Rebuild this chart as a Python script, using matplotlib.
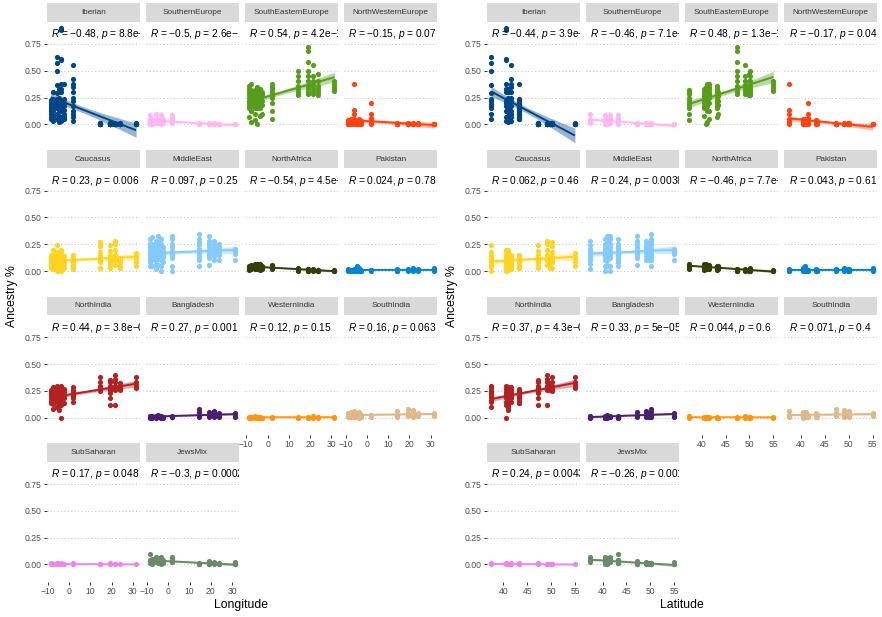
import numpy as np
import matplotlib
matplotlib.use("Agg")
import matplotlib.pyplot as plt

plt.rcParams['font.family'] = ['Liberation Sans', 'DejaVu Sans']
plt.rcParams['mathtext.fontset'] = 'custom'
plt.rcParams['mathtext.it'] = 'Liberation Sans:italic'
plt.rcParams['mathtext.rm'] = 'Liberation Sans'

# ---------------- data ----------------
components = ["Iberian", "SouthernEurope", "SouthEasternEurope", "NorthWesternEurope",
              "Caucasus", "MiddleEast", "NorthAfrica", "Pakistan",
              "NorthIndia", "Bangladesh", "WesternIndia", "SouthIndia",
              "SubSaharan", "JewsMix"]
colors = ["#004586", "#ffb6f5", "#579d1c", "#ff420e",
          "#ffd320", "#83caff", "#314004", "#0084d1",
          "#b22222", "#4b1f6f", "#ff950e", "#deb887",
          "#ee82ee", "#698b69"]

site_lon = [-8.7, -7.6, -5.9, -4.8, -3.7, -2.6, 1.9, 14.4, 19.2, 21.6, 23.9, 31.5]
site_lat = [43.2, 41.0, 37.4, 40.9, 40.5, 43.3, 41.5, 50.1, 47.3, 49.1, 49.8, 55.0]

iberian = [[0.23, 0.21, 0.19, 0.17, 0.15, 0.13, 0.12, 0.1, 0.07, 0.05],
           [0.3, 0.24, 0.22, 0.2, 0.18, 0.15, 0.12, 0.08, 0.05, 0.03],
           [0.63, 0.57, 0.5, 0.37, 0.29, 0.24, 0.22, 0.19, 0.17, 0.15, 0.1, 0.05],
           [0.33, 0.3, 0.25, 0.22, 0.2, 0.17, 0.13, 0.08, 0.04, 0.02],
           [0.9, 0.88, 0.61, 0.6, 0.38, 0.33, 0.3, 0.22, 0.2, 0.17, 0.12, 0.07, 0.03],
           [0.38, 0.24, 0.2, 0.17, 0.13, 0.1, 0.07, 0.05],
           [0.55, 0.42, 0.38, 0.35, 0.3, 0.25, 0.22, 0.17, 0.12, 0.1, 0.07, 0.03],
           [0.0, 0.01, 0.0, 0.0, 0.01, 0.0, 0.0, 0.0, 0.01],
           [0.0, 0.0, 0.01, 0.0, 0.0, 0.0, 0.01, 0.0, 0.0, 0.0],
           [0.0, 0.0, 0.0, 0.01, 0.0, 0.0, 0.0, 0.0],
           [0.0, 0.01, 0.0, 0.0, 0.0, 0.0, 0.0],
           [0.0, 0.0, 0.0, 0.01, 0.0, 0.0]]
southern_europe = [[0.09, 0.05, 0.03, 0.02, 0.01, 0.0], [0.05, 0.03, 0.02, 0.0],
                   [0.1, 0.05, 0.03, 0.02, 0.01], [0.05, 0.03, 0.02, 0.01],
                   [0.09, 0.05, 0.03, 0.02, 0.0], [0.05, 0.03, 0.01],
                   [0.09, 0.06, 0.04, 0.02, 0.01], [0.01, 0.0, 0.0, 0.0, 0.0],
                   [0.0, 0.0, 0.01, 0.0, 0.0], [0.01, 0.0, 0.0, 0.0], [0.0, 0.0, 0.0, 0.0],
                   [0.0, 0.0, 0.0]]
south_eastern_europe = [[0.36, 0.33, 0.3, 0.27, 0.25, 0.22, 0.2, 0.17, 0.15, 0.07],
                        [0.38, 0.32, 0.3, 0.27, 0.25, 0.2, 0.17, 0.12, 0.02],
                        [0.32, 0.3, 0.28, 0.25, 0.22, 0.2, 0.18, 0.15, 0.1, 0.04],
                        [0.35, 0.32, 0.3, 0.28, 0.26, 0.22, 0.2, 0.15, 0.0],
                        [0.33, 0.3, 0.28, 0.26, 0.25, 0.23, 0.2, 0.17, 0.15, 0.08],
                        [0.3, 0.28, 0.26, 0.22, 0.18, 0.1],
                        [0.38, 0.35, 0.33, 0.3, 0.28, 0.27, 0.25, 0.2, 0.12, 0.05],
                        [0.5, 0.45, 0.4, 0.36, 0.33, 0.3, 0.28, 0.27],
                        [0.72, 0.68, 0.58, 0.5, 0.45, 0.4, 0.36, 0.33, 0.3, 0.28],
                        [0.55, 0.45, 0.4, 0.37, 0.34, 0.31, 0.28],
                        [0.47, 0.4, 0.36, 0.33, 0.3, 0.27],
                        [0.4, 0.38, 0.35, 0.33, 0.31]]
north_western_europe = [[0.04, 0.03, 0.02, 0.01, 0.0, 0.0], [0.05, 0.03, 0.02, 0.0, 0.0],
                        [0.38, 0.13, 0.1, 0.05, 0.04, 0.02, 0.01, 0.0],
                        [0.03, 0.02, 0.01, 0.0, 0.0], [0.05, 0.04, 0.02, 0.01, 0.0, 0.0],
                        [0.03, 0.02, 0.01, 0.0], [0.2, 0.1, 0.06, 0.04, 0.02, 0.01, 0.0],
                        [0.0, 0.01, 0.0, 0.0, 0.0, 0.0], [0.0, 0.0, 0.01, 0.0, 0.0, 0.0],
                        [0.0, 0.0, 0.0, 0.0, 0.01], [0.0, 0.01, 0.0, 0.0, 0.0],
                        [0.0, 0.0, 0.0, 0.0]]
caucasus = [[0.15, 0.13, 0.11, 0.1, 0.08, 0.07, 0.05, 0.03],
            [0.2, 0.15, 0.12, 0.1, 0.08, 0.06, 0.04, 0.02],
            [0.24, 0.18, 0.14, 0.12, 0.1, 0.08, 0.06, 0.04, 0.0],
            [0.17, 0.14, 0.12, 0.1, 0.08, 0.05, 0.03, 0.01],
            [0.2, 0.17, 0.14, 0.12, 0.1, 0.08, 0.06, 0.03, 0.0],
            [0.14, 0.11, 0.08, 0.06, 0.03],
            [0.15, 0.12, 0.1, 0.08, 0.06, 0.04, 0.02],
            [0.27, 0.23, 0.18, 0.14, 0.12, 0.1, 0.08, 0.03],
            [0.24, 0.19, 0.15, 0.12, 0.1, 0.08, 0.06, 0.03],
            [0.28, 0.25, 0.2, 0.15, 0.12, 0.1, 0.06],
            [0.12, 0.1, 0.08, 0.05, 0.03],
            [0.17, 0.14, 0.12, 0.08, 0.05]]
middle_east = [[0.3, 0.25, 0.22, 0.2, 0.17, 0.15, 0.12, 0.1, 0.08, 0.05],
               [0.32, 0.25, 0.22, 0.18, 0.16, 0.14, 0.12, 0.1, 0.05],
               [0.28, 0.24, 0.21, 0.19, 0.17, 0.15, 0.12, 0.1, 0.07, 0.02],
               [0.33, 0.27, 0.23, 0.2, 0.18, 0.15, 0.13, 0.11, 0.06],
               [0.3, 0.25, 0.22, 0.2, 0.18, 0.16, 0.14, 0.1, 0.05, 0.0],
               [0.22, 0.19, 0.17, 0.15, 0.13, 0.08],
               [0.33, 0.3, 0.25, 0.22, 0.19, 0.17, 0.15, 0.12, 0.05, 0.0],
               [0.35, 0.3, 0.27, 0.24, 0.21, 0.19, 0.16, 0.13, 0.1, 0.05],
               [0.33, 0.28, 0.25, 0.22, 0.2, 0.17, 0.15, 0.12, 0.06],
               [0.28, 0.25, 0.22, 0.2, 0.17, 0.14, 0.1],
               [0.25, 0.22, 0.2, 0.18, 0.15, 0.1],
               [0.21, 0.2, 0.19, 0.18, 0.16, 0.1]]
north_africa = [[0.05, 0.04, 0.03, 0.02, 0.01], [0.06, 0.05, 0.04, 0.03, 0.02],
                [0.07, 0.06, 0.05, 0.04, 0.03, 0.02], [0.07, 0.06, 0.05, 0.04, 0.03, 0.02],
                [0.07, 0.06, 0.05, 0.04, 0.03, 0.02, 0.01], [0.05, 0.04, 0.03, 0.02],
                [0.06, 0.05, 0.04, 0.03, 0.02], [0.03, 0.02, 0.01, 0.01, 0.0],
                [0.02, 0.02, 0.01, 0.0, 0.0], [0.02, 0.01, 0.01, 0.0],
                [0.01, 0.01, 0.0, 0.0], [0.01, 0.0, 0.0]]
pakistan = [[0.02, 0.01, 0.01, 0.0], [0.01, 0.01, 0.0], [0.02, 0.01, 0.0, 0.0],
            [0.05, 0.02, 0.01, 0.0], [0.03, 0.02, 0.01, 0.0], [0.01, 0.0, 0.0],
            [0.01, 0.01, 0.0], [0.02, 0.01, 0.0, 0.0], [0.02, 0.01, 0.0],
            [0.03, 0.01, 0.0], [0.02, 0.01, 0.0], [0.03, 0.01, 0.0]]
north_india = [[0.26, 0.24, 0.22, 0.2, 0.18, 0.16, 0.14],
               [0.29, 0.26, 0.23, 0.21, 0.19, 0.17, 0.13, 0.08],
               [0.3, 0.28, 0.25, 0.23, 0.21, 0.19, 0.17, 0.15, 0.1],
               [0.28, 0.25, 0.23, 0.21, 0.19, 0.15, 0.11, 0.07],
               [0.3, 0.27, 0.24, 0.22, 0.2, 0.18, 0.15, 0.12, 0.0],
               [0.27, 0.24, 0.21, 0.18, 0.14],
               [0.29, 0.26, 0.24, 0.22, 0.2, 0.18, 0.15],
               [0.38, 0.33, 0.3, 0.28, 0.26, 0.25],
               [0.35, 0.33, 0.3, 0.28, 0.27, 0.25, 0.23, 0.18, 0.12],
               [0.4, 0.36, 0.33, 0.3, 0.28, 0.26, 0.12],
               [0.32, 0.3, 0.28, 0.26],
               [0.38, 0.33, 0.31, 0.29, 0.28]]
bangladesh = [[0.02, 0.01, 0.01, 0.0], [0.02, 0.01, 0.0], [0.02, 0.01, 0.01, 0.0],
              [0.03, 0.02, 0.01], [0.02, 0.01, 0.0, 0.0], [0.01, 0.01, 0.0],
              [0.02, 0.01, 0.01], [0.08, 0.05, 0.03, 0.02, 0.01], [0.05, 0.03, 0.02, 0.01],
              [0.06, 0.04, 0.02, 0.01], [0.04, 0.02, 0.01], [0.04, 0.02, 0.01]]
western_india = [[0.01, 0.0, 0.0], [0.01, 0.0], [0.02, 0.01, 0.0], [0.01, 0.0, 0.0],
                 [0.01, 0.0, 0.0], [0.0, 0.0], [0.01, 0.0], [0.01, 0.0, 0.0],
                 [0.01, 0.0, 0.0], [0.02, 0.0], [0.01, 0.0], [0.01, 0.0]]
south_india = [[0.04, 0.02, 0.01], [0.05, 0.03, 0.02, 0.01], [0.06, 0.03, 0.02, 0.01],
               [0.04, 0.02, 0.01], [0.05, 0.03, 0.02, 0.0], [0.03, 0.01],
               [0.03, 0.02, 0.01], [0.06, 0.03, 0.02, 0.01], [0.08, 0.04, 0.03, 0.02],
               [0.07, 0.04, 0.02, 0.01], [0.04, 0.03, 0.02], [0.04, 0.03, 0.02]]
sub_saharan = [[0.01, 0.0], [0.0, 0.0], [0.01, 0.0], [0.0, 0.0], [0.01, 0.0], [0.0],
               [0.01, 0.0], [0.0, 0.0], [0.01, 0.0], [0.0, 0.0], [0.0], [0.0]]
jews_mix = [[0.1, 0.04, 0.03, 0.01], [0.05, 0.03, 0.02, 0.0], [0.07, 0.05, 0.04, 0.02],
            [0.06, 0.04, 0.03, 0.01], [0.07, 0.05, 0.03, 0.02, 0.0], [0.04, 0.02, 0.01],
            [0.07, 0.05, 0.03, 0.02], [0.01, 0.0, 0.0, 0.0], [0.03, 0.01, 0.0, 0.0],
            [0.02, 0.01, 0.0], [0.01, 0.0, 0.0], [0.02, 0.0, 0.0]]

values = [iberian, southern_europe, south_eastern_europe, north_western_europe,
          caucasus, middle_east, north_africa, pakistan,
          north_india, bangladesh, western_india, south_india,
          sub_saharan, jews_mix]

lon_r = ["−0.48", "−0.5", "0.54", "−0.15", "0.23", "0.097", "−0.54", "0.024",
         "0.44", "0.27", "0.12", "0.16", "0.17", "−0.3"]
lon_p = ["8.8e−12", "2.6e−12", "4.2e−14", "0.07", "0.006", "0.25", "4.5e−14", "0.78",
         "3.8e−09", "0.001", "0.15", "0.063", "0.048", "0.00029"]
lat_r = ["−0.44", "−0.46", "0.48", "−0.17", "0.062", "0.24", "−0.46", "0.043",
         "0.37", "0.33", "0.044", "0.071", "0.24", "−0.26"]
lat_p = ["3.9e−09", "7.1e−10", "1.3e−10", "0.04", "0.46", "0.0038", "7.7e−10", "0.61",
         "4.3e−06", "5e−05", "0.6", "0.4", "0.0043", "0.0019"]

y_ticks = [0.0, 0.25, 0.5, 0.75]
y_ticklabels = ["0.00", "0.25", "0.50", "0.75"]
lon_ticks = [-10, 0, 10, 20, 30]
lat_ticks = [40, 45, 50, 55]

# ---------------- layout ----------------
W, H = 882, 617
fig = plt.figure(figsize=(W / 100, H / 100), dpi=100)

def frac(x0, y0, w, h):
    return [x0 / W, 1 - (y0 + h) / H, w / W, h / H]

PW, PH = 93.0, 119.8
COLSTEP, ROWSTEP = 99.2, 146.7
STRIP_H = 18.3

grids = [
    dict(x0=46.7, coords=site_lon, xlim=(-10.6, 33.2), ticks=lon_ticks, rs=lon_r, ps=lon_p,
         xlabel="Longitude", xlab_x=241),
    dict(x0=486.7, coords=site_lat, xlim=(36.5, 56.0), ticks=lat_ticks, rs=lat_r, ps=lat_p,
         xlabel="Latitude", xlab_x=682),
]

T95 = 1.98

for g in grids:
    for k, name in enumerate(components):
        r, c = divmod(k, 4)
        px = g["x0"] + COLSTEP * c
        ptop = 21.7 + ROWSTEP * r
        stop = 3.3 + ROWSTEP * r
        # strip
        sax = fig.add_axes(frac(px, stop, PW, STRIP_H))
        sax.set_facecolor("#d9d9d9")
        sax.set_xticks([]); sax.set_yticks([])
        for s in sax.spines.values():
            s.set_visible(False)
        sax.text(0.5, 0.5, name, ha="center", va="center", fontsize=5.9, color="#333333",
                 transform=sax.transAxes)
        # panel
        ax = fig.add_axes(frac(px, ptop, PW, PH))
        ax.set_facecolor("white")
        for s in ax.spines.values():
            s.set_visible(False)
        ax.set_xlim(*g["xlim"])
        ax.set_ylim(-0.16, 0.957)
        ax.set_yticks(y_ticks)
        ax.set_xticks(g["ticks"])
        ax.yaxis.grid(True, color="#bdbdbd", linestyle=(0, (1, 2.5)), linewidth=0.7)
        ax.set_axisbelow(True)
        ax.tick_params(axis="both", length=2.5, width=0.7, color="#333333",
                       labelsize=6.2, labelcolor="#4d4d4d", pad=1.5)
        if c == 0:
            ax.set_yticklabels(y_ticklabels)
        else:
            ax.tick_params(axis="y", length=0, labelleft=False)
        if k >= len(components) - 4:
            ax.set_xticklabels([str(t) if t >= 0 else "−" + str(-t) for t in g["ticks"]])
        else:
            ax.tick_params(axis="x", length=0, labelbottom=False)

        xs_all, ys_all = [], []
        for site, vals in enumerate(values[k]):
            for v in vals:
                xs_all.append(g["coords"][site]); ys_all.append(v)
        x = np.array(xs_all); y = np.array(ys_all)
        col = colors[k]
        ax.scatter(x, y, s=14, color=col, linewidths=0, zorder=2)
        # linear fit with 95% CI
        n = len(x)
        xb, yb = x.mean(), y.mean()
        sxx = ((x - xb) ** 2).sum()
        b = ((x - xb) * (y - yb)).sum() / sxx
        a = yb - b * xb
        resid = y - (a + b * x)
        s = np.sqrt((resid ** 2).sum() / (n - 2))
        xl = np.linspace(x.min(), x.max(), 80)
        yl = a + b * xl
        se = s * np.sqrt(1 / n + (xl - xb) ** 2 / sxx)
        ax.fill_between(xl, yl - T95 * se, yl + T95 * se, color=col, alpha=0.4,
                        linewidth=0, zorder=3)
        ax.plot(xl, yl, color=col, lw=1.4, zorder=4, solid_capstyle="butt")
        ax.text(x.min(), 0.84, "$\\it{R}$ = " + g["rs"][k] + ", $\\it{p}$ = " + g["ps"][k],
                fontsize=7.3, color="black", ha="left", va="center", clip_on=True, zorder=5)

    fig.text(g["xlab_x"] / W, 1 - 605 / H, g["xlabel"], ha="center", va="center", fontsize=8.8)
    fig.text((g["x0"] - 34.7) / W, 1 - 296 / H, "Ancestry %", ha="center", va="center",
             rotation=90, fontsize=8.8)

fig.savefig("out.png", dpi=100)
